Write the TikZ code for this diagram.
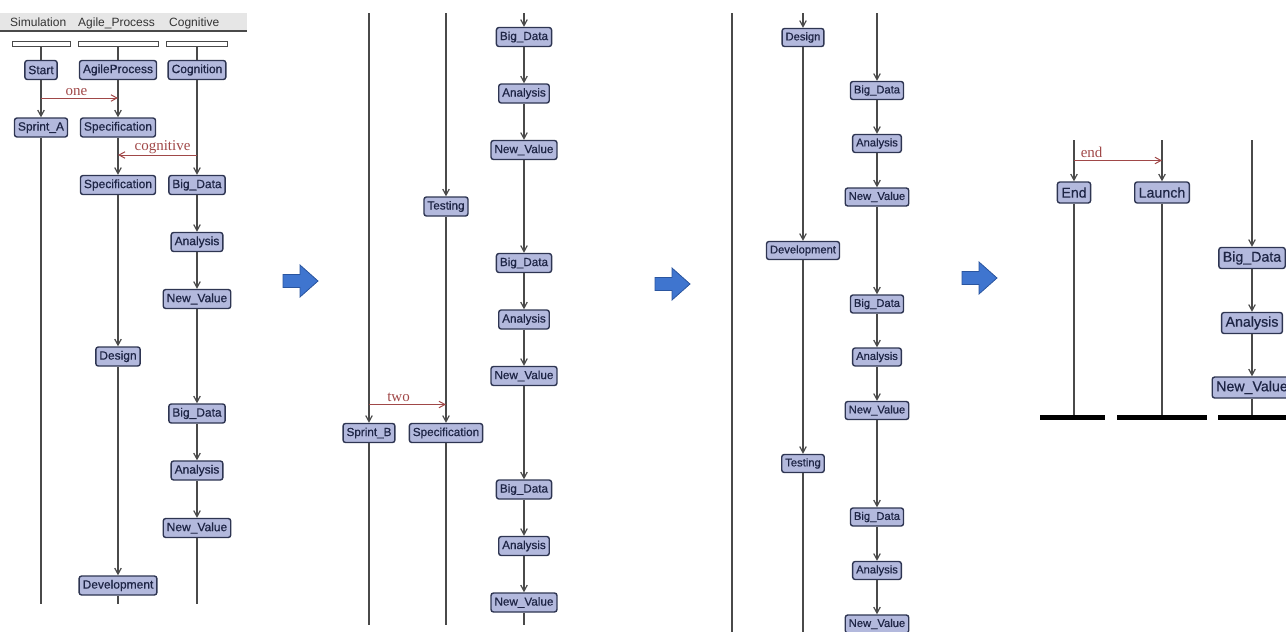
\documentclass[tikz,border=0pt]{standalone}
\usepackage{fontspec}
\setmainfont{Liberation Sans}
\newfontfamily\nodefont{Liberation Sans}[FakeBold=0.6]
\newfontfamily\msgfont{Liberation Serif}
\usetikzlibrary{arrows.meta}
\definecolor{boxfill}{HTML}{B3B9DD}
\definecolor{boxedge}{HTML}{2E3552}
\definecolor{boxtext}{HTML}{1E2545}
\definecolor{lifegray}{HTML}{4A4A4A}
\definecolor{msgred}{HTML}{A04848}
\definecolor{bandgray}{HTML}{E6E6E6}
\definecolor{bluefill}{HTML}{3F75CF}
\definecolor{blueedge}{HTML}{2A559F}
\begin{document}
\begin{tikzpicture}[x=1pt,y=-1pt,
  act/.style={draw=boxedge, fill=boxfill, line width=1.4pt, rounded corners=2.5pt,
    text=boxtext, inner xsep=3.5pt, inner ysep=0pt, minimum height=19pt,
    font=\nodefont\fontsize{12}{12}\selectfont},
  actb/.style={act, font=\nodefont\fontsize{11.7}{12}\selectfont},
  actc/.style={act, minimum height=18pt, font=\nodefont\fontsize{11.2}{11}\selectfont},
  actd/.style={act, minimum height=21pt, inner xsep=4pt, font=\nodefont\fontsize{14.2}{14}\selectfont},
  life/.style={draw=lifegray, line width=1.2pt},
  flow/.style={life, -{Straight Barb[length=6pt,width=6.5pt]}},
  msg/.style={draw=msgred, line width=1pt, -{Straight Barb[length=6pt,width=6.5pt]}},
  msglab/.style={text=msgred, inner sep=1pt, font=\msgfont\fontsize{15}{15}\selectfont},
  lanebar/.style={draw=lifegray, fill=white, line width=1pt, minimum height=5pt, inner sep=0pt},
  joinbar/.style={fill=black, draw=none, minimum height=5pt, inner sep=0pt},
  lanehead/.style={anchor=base west, inner sep=0pt, text=black!80, font=\fontsize{12}{12}\selectfont},
  bigarrow/.style={fill=bluefill, draw=blueedge, line width=0.8pt, line join=miter}
]
\useasboundingbox (0,0) rectangle (1286,632);

% ---------------- lane header ----------------
\fill[bandgray] (0,13) rectangle (247,31);
\draw[lifegray, line width=1.5pt] (0,31) -- (247,31);
\node[lanehead] (hsim) at (10,26.5) {Simulation};
\node[lanehead] (hagi) at (78,26.5) {Agile\_Process};
\node[lanehead] (hcog) at (169,26.5) {Cognitive};

\node[lanebar, minimum width=58pt] (bsim) at (41,43.5) {};
\node[lanebar, minimum width=80pt] (bagi) at (118,43.5) {};
\node[lanebar, minimum width=61pt] (bcog) at (197,43.5) {};

% ---------------- panel 1 ----------------
\node[act] (start) at (41,70) {Start};
\node[act] (agile) at (118,70) {AgileProcess};
\node[act] (cogn) at (197,70) {Cognition};
\node[act] (sprA) at (41,127.5) {Sprint\_A};
\node[act] (specA) at (118,127.5) {Specification};
\node[act] (specB) at (118,185) {Specification};
\node[act] (bdA) at (197,185) {Big\_Data};
\node[act] (anA) at (197,242) {Analysis};
\node[act] (nvA) at (197,299) {New\_Value};
\node[act] (desA) at (118,356.5) {Design};
\node[act] (bdB) at (197,413.5) {Big\_Data};
\node[act] (anB) at (197,470.5) {Analysis};
\node[act] (nvB) at (197,528) {New\_Value};
\node[act] (devA) at (118,585.5) {Development};
\coordinate (endS1) at (41,604);
\coordinate (endA1) at (118,604);
\coordinate (endC1) at (197,604);

\draw[life] (bsim) -- (start);
\draw[life] (bagi) -- (agile);
\draw[life] (bcog) -- (cogn);
\draw[flow] (start) -- (sprA);
\draw[life] (sprA) -- (endS1);
\draw[flow] (agile) -- (specA);
\draw[flow] (specA) -- (specB);
\draw[flow] (specB) -- (desA);
\draw[flow] (desA) -- (devA);
\draw[life] (devA) -- (endA1);
\draw[flow] (cogn) -- (bdA);
\draw[flow] (bdA) -- (anA);
\draw[flow] (anA) -- (nvA);
\draw[flow] (nvA) -- (bdB);
\draw[flow] (bdB) -- (anB);
\draw[flow] (anB) -- (nvB);
\draw[life] (nvB) -- (endC1);

\coordinate (oneS) at (41,98);
\coordinate (oneT) at (118,98);
\draw[msg] (oneS) -- node[msglab, above=1pt, xshift=-3pt] {one} (oneT);
\coordinate (cogS) at (197,155);
\coordinate (cogT) at (118,155);
\draw[msg] (cogS) -- node[msglab, above=0pt, xshift=5pt] {cognitive} (cogT);

% ---------------- panel 2 ----------------
\coordinate (topS2) at (369,13);
\coordinate (topA2) at (446,13);
\coordinate (topC2) at (524,13);
\node[actb] (bd21) at (524,37) {Big\_Data};
\node[actb] (an21) at (524,93.5) {Analysis};
\node[actb] (nv21) at (524,150) {New\_Value};
\node[actb] (tst2) at (446,206.5) {Testing};
\node[actb] (bd22) at (524,263) {Big\_Data};
\node[actb] (an22) at (524,319.5) {Analysis};
\node[actb] (nv22) at (524,376) {New\_Value};
\node[actb] (sprB) at (369,433) {Sprint\_B};
\node[actb] (spec2) at (446,433) {Specification};
\node[actb] (bd23) at (524,489.5) {Big\_Data};
\node[actb] (an23) at (524,546) {Analysis};
\node[actb] (nv23) at (524,602.5) {New\_Value};
\coordinate (endS2) at (369,625);
\coordinate (endA2) at (446,625);
\coordinate (endC2) at (524,625);

\draw[flow] (topS2) -- (sprB);
\draw[life] (sprB) -- (endS2);
\draw[flow] (topA2) -- (tst2);
\draw[flow] (tst2) -- (spec2);
\draw[life] (spec2) -- (endA2);
\draw[flow] (topC2) -- (bd21);
\draw[flow] (bd21) -- (an21);
\draw[flow] (an21) -- (nv21);
\draw[flow] (nv21) -- (bd22);
\draw[flow] (bd22) -- (an22);
\draw[flow] (an22) -- (nv22);
\draw[flow] (nv22) -- (bd23);
\draw[flow] (bd23) -- (an23);
\draw[flow] (an23) -- (nv23);
\draw[life] (nv23) -- (endC2);

\coordinate (twoS) at (369,404.5);
\coordinate (twoT) at (446,404.5);
\draw[msg] (twoS) -- node[msglab, above=1pt, xshift=-9pt] {two} (twoT);

% ---------------- panel 3 ----------------
\coordinate (topS3) at (732,13);
\coordinate (topA3) at (803,13);
\coordinate (topC3) at (877,13);
\coordinate (endS3) at (732,640);
\coordinate (endA3) at (803,640);
\node[actc] (des3) at (803,37.5) {Design};
\node[actc] (bd31) at (877,90.5) {Big\_Data};
\node[actc] (an31) at (877,143.5) {Analysis};
\node[actc] (nv31) at (877,197) {New\_Value};
\node[actc] (dev3) at (803,250.5) {Development};
\node[actc] (bd32) at (877,304) {Big\_Data};
\node[actc] (an32) at (877,357) {Analysis};
\node[actc] (nv32) at (877,410.5) {New\_Value};
\node[actc] (tst3) at (803,463.5) {Testing};
\node[actc] (bd33) at (877,517) {Big\_Data};
\node[actc] (an33) at (877,570.5) {Analysis};
\node[actc] (nv33) at (877,624) {New\_Value};

\draw[life] (topS3) -- (endS3);
\draw[flow] (topA3) -- (des3);
\draw[flow] (des3) -- (dev3);
\draw[flow] (dev3) -- (tst3);
\draw[life] (tst3) -- (endA3);
\draw[flow] (topC3) -- (bd31);
\draw[flow] (bd31) -- (an31);
\draw[flow] (an31) -- (nv31);
\draw[flow] (nv31) -- (bd32);
\draw[flow] (bd32) -- (an32);
\draw[flow] (an32) -- (nv32);
\draw[flow] (nv32) -- (bd33);
\draw[flow] (bd33) -- (an33);
\draw[flow] (an33) -- (nv33);

% ---------------- panel 4 ----------------
\coordinate (topS4) at (1074,140);
\coordinate (topA4) at (1162,140);
\coordinate (topC4) at (1252,140);
\node[actd] (endN) at (1074,192.5) {End};
\node[actd] (lnch) at (1162,192.5) {Launch};
\node[actd] (bd4) at (1252,258) {Big\_Data};
\node[actd] (an4) at (1252,323) {Analysis};
\node[actd] (nv4) at (1252,387.5) {New\_Value};
\node[joinbar, minimum width=65pt] (jS) at (1072.5,417.5) {};
\node[joinbar, minimum width=90pt] (jA) at (1162,417.5) {};
\node[joinbar, minimum width=70pt] (jC) at (1253,417.5) {};

\draw[flow] (topS4) -- (endN);
\draw[flow] (topA4) -- (lnch);
\draw[life] (endN) -- (endN |- jS.north);
\draw[life] (lnch) -- (lnch |- jA.north);
\draw[flow] (topC4) -- (bd4);
\draw[flow] (bd4) -- (an4);
\draw[flow] (an4) -- (nv4);
\draw[life] (nv4) -- (nv4 |- jC.north);

\coordinate (endMS) at (1074,160.5);
\coordinate (endMT) at (1162,160.5);
\draw[msg] (endMS) -- node[msglab, above=1pt, pos=0.2] {end} (endMT);

% ---------------- step arrows between panels ----------------
\foreach \cx/\cy in {300/281, 672/284, 979/278}{
  \begin{scope}[shift={(\cx,\cy)}]
    \draw[bigarrow] (-17,-6.5) -- (0,-6.5) -- (0,-16) -- (18,0) -- (0,16) -- (0,6.5) -- (-17,6.5) -- cycle;
  \end{scope}
}
\end{tikzpicture}
\end{document}
